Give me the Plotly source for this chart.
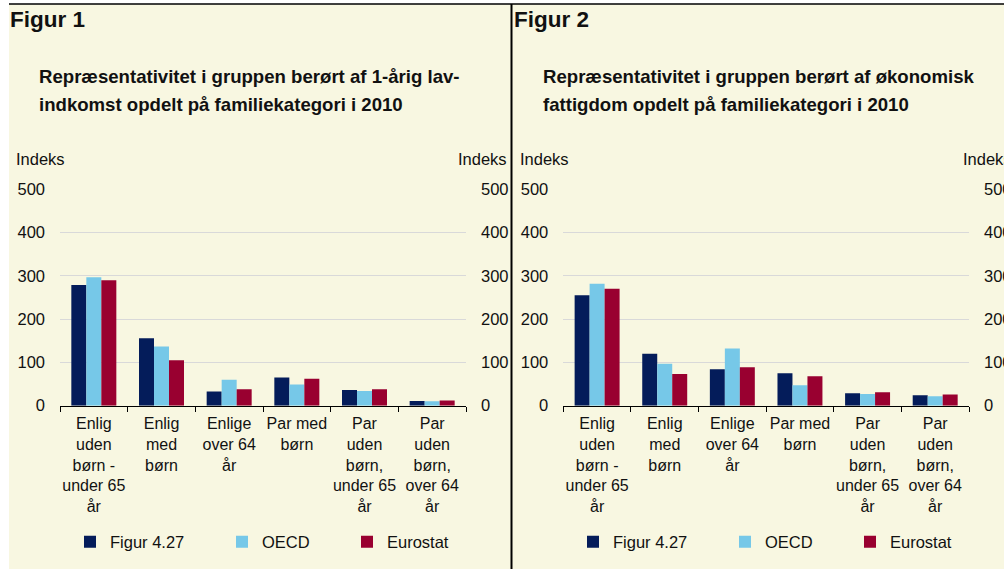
import plotly.graph_objects as go

W, H = 1004, 569

categories = [
    "Enlig<br>uden<br>børn -<br>under 65<br>år",
    "Enlig<br>med<br>børn",
    "Enlige<br>over 64<br>år",
    "Par med<br>børn",
    "Par<br>uden<br>børn,<br>under 65<br>år",
    "Par<br>uden<br>børn,<br>over 64<br>år",
]
series_names = ["Figur 4.27", "OECD", "Eurostat"]
series_colors = ["#041C5A", "#76C8E8", "#990030"]

fig1_figur427 = [279, 156, 33, 65, 36, 11]
fig1_oecd = [297, 137, 60, 49, 34, 10]
fig1_eurostat = [290, 105, 38, 62, 38, 12]

fig2_figur427 = [255, 120, 84, 75, 29, 24]
fig2_oecd = [282, 97, 132, 47, 27, 22]
fig2_eurostat = [270, 73, 89, 68, 31, 26]

y_ticks = [0, 100, 200, 300, 400, 500]

FONT = "Liberation Sans, Arial, sans-serif"
CREAM = "#F8F7E1"
TXT = "#111111"
FS = 16.5


def px(x):
    return x / W


def py(y):
    return 1 - y / H


fig = go.Figure()

panels = [
    ("x", "y", "y3", [fig1_figur427, fig1_oecd, fig1_eurostat], ["legend", "legend2", "legend3"]),
    ("x2", "y2", "y4", [fig2_figur427, fig2_oecd, fig2_eurostat], ["legend4", "legend5", "legend6"]),
]
for xa, ya, yr, series, legs in panels:
    for name, color, vals, leg in zip(series_names, series_colors, series, legs):
        fig.add_trace(go.Bar(
            x=categories, y=vals, name=name, marker=dict(color=color, line=dict(width=0)),
            xaxis=xa, yaxis=ya, legend=leg, showlegend=True, hoverinfo="skip",
        ))
    # invisible companion so the right-hand value axis is drawn
    fig.add_trace(go.Scatter(
        x=categories, y=series[0], xaxis=xa, yaxis=yr, mode="markers",
        marker=dict(opacity=0), showlegend=False, hoverinfo="skip",
    ))

ydom = [py(405.7), py(189.3)]
xdom1 = [px(60), px(466)]
xdom2 = [px(563.3), px(969)]

common_x = dict(
    type="category", showline=True, linecolor="black", linewidth=1.3,
    ticks="outside", ticklen=5, tickcolor="black", tickwidth=1.3, tickson="boundaries",
    showgrid=False, tickfont=dict(family=FONT, size=16, color=TXT), ticklabelstandoff=3,
    tickangle=0, automargin=False,
)
common_y = dict(
    range=[0, 500], tickvals=y_ticks, showline=False, zeroline=False,
    ticks="", tickfont=dict(family=FONT, size=FS, color=TXT), ticklabelstandoff=14,
    automargin=False,
)

fig.update_layout(
    template="none",
    width=W, height=H, margin=dict(l=0, r=0, t=0, b=0, pad=0, autoexpand=False),
    paper_bgcolor="white", plot_bgcolor="rgba(0,0,0,0)",
    barmode="group", bargap=0.335, bargroupgap=0,
    font=dict(family=FONT, size=FS, color=TXT),
    xaxis=dict(domain=xdom1, anchor="y", **common_x),
    yaxis=dict(domain=ydom, anchor="x", showgrid=True, gridcolor="#D9D9D9", gridwidth=1, **common_y),
    yaxis3=dict(overlaying="y", side="right", anchor="x", showgrid=False, **common_y),
    xaxis2=dict(domain=xdom2, anchor="y2", **common_x),
    yaxis2=dict(domain=ydom, anchor="x2", showgrid=True, gridcolor="#D9D9D9", gridwidth=1, **common_y),
    yaxis4=dict(overlaying="y2", side="right", anchor="x2", showgrid=False, **common_y),
)

# legends, one per entry
leg_x = [70, 222, 347, 573, 725, 850]
for i, lx in enumerate(leg_x):
    key = "legend" if i == 0 else f"legend{i + 1}"
    fig.update_layout(**{key: dict(
        x=px(lx), y=py(542), xanchor="left", yanchor="middle", orientation="h",
        bgcolor="rgba(0,0,0,0)", borderwidth=0, font=dict(family=FONT, size=FS, color=TXT),
        tracegroupgap=0, itemclick=False, itemdoubleclick=False,
    )})

shapes = [
    dict(type="rect", xref="paper", yref="paper", x0=px(9), x1=1, y0=0, y1=py(4),
         fillcolor=CREAM, line=dict(width=0), layer="below"),
    dict(type="line", xref="paper", yref="paper", x0=px(9), x1=1, y0=py(4), y1=py(4),
         line=dict(color="black", width=1.5)),
    dict(type="line", xref="paper", yref="paper", x0=px(511.5), x1=px(511.5), y0=0, y1=py(4),
         line=dict(color="black", width=2)),
]
fig.update_layout(shapes=shapes)

ann = []


def text(x, y, s, size=FS, bold=False, anchor="left"):
    ann.append(dict(
        xref="paper", yref="paper", x=px(x), y=py(y), xanchor=anchor, yanchor="middle",
        text=f"<b>{s}</b>" if bold else s, showarrow=False,
        font=dict(family=FONT, size=size, color=TXT),
    ))


text(8, 20, "Figur 1", 22.5, True)
text(512, 20, "Figur 2", 22.5, True)
text(37, 76, "Repræsentativitet i gruppen berørt af 1-årig lav-", 18.6, True)
text(37, 104, "indkomst opdelt på familiekategori i 2010", 18.6, True)
text(541, 76, "Repræsentativitet i gruppen berørt af økonomisk", 18.6, True)
text(541, 104, "fattigdom opdelt på familiekategori i 2010", 18.6, True)
text(14, 159, "Indeks")
text(509, 159, "Indeks", anchor="right")
text(518, 159, "Indeks")
text(961, 159, "Indeks")
fig.update_layout(annotations=ann)

fig.write_html(
    "out.html",
    config={"displayModeBar": False, "staticPlot": False},
    post_script="document.body.style.margin='0';",
)
